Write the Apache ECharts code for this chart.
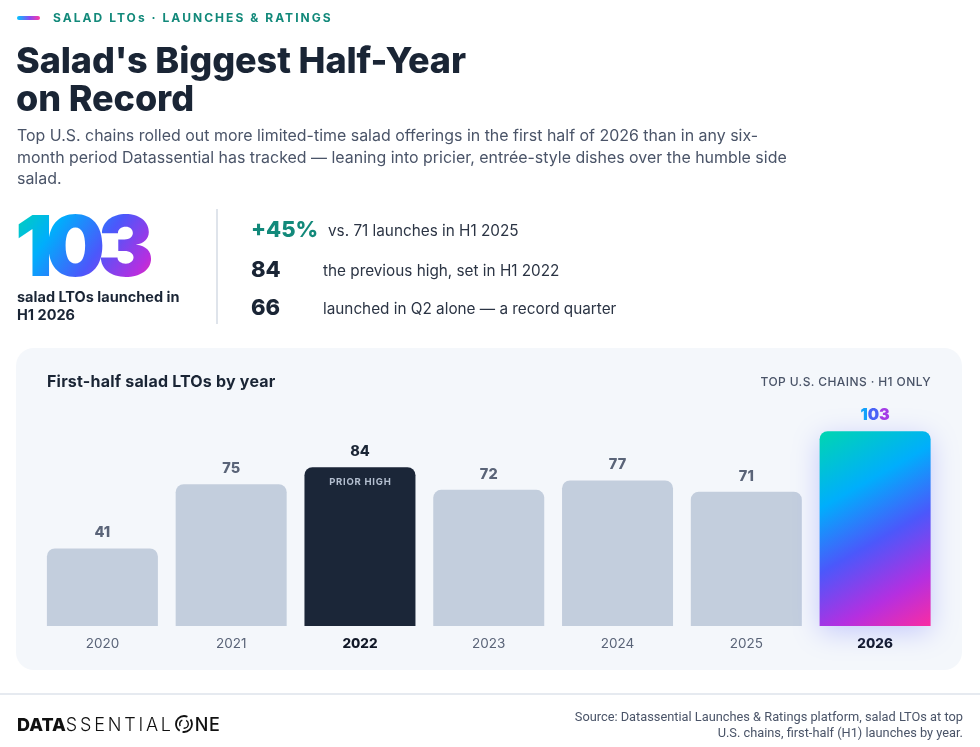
<!DOCTYPE html>
<html>
<head>
<meta charset="utf-8">
<script src="https://cdn.jsdelivr.net/npm/echarts@6/dist/echarts.min.js"></script>
<style>
  html, body { margin: 0; padding: 0; background: #ffffff; }
  #wrap { position: relative; width: 980px; height: 747px; font-family: Inter, "Noto Sans", sans-serif; }
  #chart { position: absolute; left: 0; top: 0; width: 980px; height: 747px; }
  .t { position: absolute; white-space: nowrap; pointer-events: none; }
  .kicker { left: 53px; top: 11px; font: 700 12px/14px Inter, sans-serif; letter-spacing: 2.05px; color: #12897a; }
  .pill { position: absolute; left: 17px; top: 16px; width: 23px; height: 4px; border-radius: 2px;
          background: linear-gradient(90deg, #00c6ff, #8a4af3 55%, #ff3aa2); }
  .title { left: 16px; font: 800 36px/36px Inter, sans-serif; letter-spacing: -0.1px; color: #1a2535; }
  .para { left: 17px; top: 125px; font: 400 15.95px/21.5px Inter, sans-serif; color: #4a5468; }
  .big { left: 15px; top: 204px; font: 900 84px/84px Inter, sans-serif; letter-spacing: -7.5px;
         background: linear-gradient(125deg, #00d6b0 0%, #00aefc 28%, #4b58fb 58%, #b52fe0 85%, #fa2ca2 100%);
         -webkit-background-clip: text; background-clip: text; color: transparent; padding-right: 10px; }
  .caption { left: 17px; top: 288px; font: 700 14.5px/18px Inter, sans-serif; color: #1a2535; }
  .vr { position: absolute; left: 216px; top: 209px; width: 1.5px; height: 115px; background: #dfe4eb; }
  .num { left: 251px; font: 800 22px/22px Inter, sans-serif; }
  .stat { font: 400 15.3px/16px Inter, sans-serif; color: #2b3444; }
  .ptitle { left: 47px; top: 372px; font: 700 16px/18px Inter, sans-serif; letter-spacing: 0.2px; color: #1a2535; }
  .pnote { right: 49px; top: 375px; font: 500 12px/14px Inter, sans-serif; letter-spacing: 0.4px; color: #4a5468; }
  .hr { position: absolute; left: 0; top: 693px; width: 980px; height: 1.5px; background: #e6eaf0; }
  .logo { left: 17px; top: 714px; font: 18px/20px Inter, sans-serif; color: #111111; }
  .logo b { font-weight: 800; }
  .logo span { font-weight: 300; letter-spacing: 2.8px; }
  .logo i { font-style: normal; font-weight: 500; letter-spacing: 0.5px; }
  .logo svg { vertical-align: -3px; margin: 0 1px 0 0; }
  .src { right: 17px; top: 709px; text-align: right; font: 400 12.8px/16px "Liberation Sans Narrow", Roboto, sans-serif; color: #4a5468; }
</style>
</head>
<body>
<div id="wrap">
  <div id="chart"></div>
  <div class="pill"></div>
  <div class="t kicker">SALAD LTOs · LAUNCHES &amp; RATINGS</div>
  <div class="t title" style="top:42px">Salad's Biggest Half-Year</div>
  <div class="t title" style="top:80px">on Record</div>
  <div class="t para">Top U.S. chains rolled out more limited-time salad offerings in the first half of 2026 than in any six-<br>month period Datassential has tracked — leaning into pricier, entrée-style dishes over the humble side<br>salad.</div>
  <div class="t big">103</div>
  <div class="t caption">salad LTOs launched in<br>H1 2026</div>
  <div class="vr"></div>
  <div id="stats"></div>
  <div class="t ptitle">First-half salad LTOs by year</div>
  <div class="t pnote">TOP U.S. CHAINS · H1 ONLY</div>
  <div class="hr"></div>
  <div class="t logo"><b>DATA</b><span>SSENTIAL</span><svg width="20" height="20" viewBox="0 0 20 20"><circle cx="10" cy="10" r="8" fill="none" stroke="#111" stroke-width="1.8" stroke-dasharray="14 3 24 4"/><circle cx="10" cy="10" r="4.3" fill="none" stroke="#111" stroke-width="1.4" stroke-dasharray="7 4"/></svg><i>NE</i></div>
  <div class="t src">Source: Datassential Launches &amp; Ratings platform, salad LTOs at top<br>U.S. chains, first-half (H1) launches by year.</div>
</div>
<script>
// data
var years = ['2020', '2021', '2022', '2023', '2024', '2025', '2026'];
var launches = [41, 75, 84, 72, 77, 71, 103];
var priorHighYear = '2022';
var recordYear = '2026';
var statNumbers = ['+45%', '84', '66'];
var statTexts = ['vs. 71 launches in H1 2025', 'the previous high, set in H1 2022', 'launched in Q2 alone \u2014 a record quarter'];

var INK = '#1a2535';
var SLATE = '#5a6478';

// stat rows
var statY = [229, 269, 307];
var statTextX = [328, 323, 323];
var statsHtml = '';
statNumbers.forEach(function (n, i) {
  statsHtml += '<div class="t num" style="top:' + (statY[i] - 11) + 'px;color:' + (i === 0 ? '#12897a' : INK) + '">' + n + '</div>' +
    '<div class="t stat" style="left:' + statTextX[i] + 'px;top:' + (statY[i] - 6) + 'px">' + statTexts[i] + '</div>';
});
document.getElementById('stats').innerHTML = statsHtml;

var recordFill = new echarts.graphic.LinearGradient(0, 0, 1, 1, [
  { offset: 0, color: '#00d6b0' },
  { offset: 0.3, color: '#00aefc' },
  { offset: 0.55, color: '#4b58fb' },
  { offset: 0.8, color: '#b52fe0' },
  { offset: 1, color: '#fa2ca2' }
]);

// bars, styled per year
var barData = years.map(function (y, i) {
  var item = { value: launches[i] };
  if (y === priorHighYear) {
    item.itemStyle = { color: '#1b2638' };
    item.label = { color: INK };
  } else if (y === recordYear) {
    item.itemStyle = {
      color: recordFill,
      shadowBlur: 28,
      shadowColor: 'rgba(85,95,255,0.30)',
      shadowOffsetY: 6
    };
    // digit-by-digit colours stand in for the gradient text
    item.label = {
      formatter: function (p) {
        var s = String(p.value), keys = ['g1', 'g2', 'g3'], out = '';
        for (var k = 0; k < s.length; k++) out += '{' + keys[Math.min(k, 2)] + '|' + s[k] + '}';
        return out;
      },
      rich: {
        g1: { color: '#12a2fb', fontSize: 16, fontWeight: 900 },
        g2: { color: '#4a63f6', fontSize: 16, fontWeight: 900 },
        g3: { color: '#a43ce6', fontSize: 16, fontWeight: 900 }
      }
    };
  }
  return item;
});

// invisible overlay that only carries the "PRIOR HIGH" tag
var tagData = years.map(function (y, i) {
  return y === priorHighYear ? launches[i] : null;
});

var myChart = echarts.init(document.getElementById('chart'));
var option = {
  animation: false,
  backgroundColor: '#ffffff',
  textStyle: { fontFamily: 'Inter, "Noto Sans", sans-serif' },
  graphic: {
    elements: [
      { type: 'rect', z: -1, shape: { x: 16, y: 348, width: 946, height: 322, r: 18 }, style: { fill: '#f4f7fb' } }
    ]
  },
  grid: { left: 38, right: 40.5, top: 418, bottom: 121 },
  xAxis: {
    type: 'category',
    data: years,
    axisLine: { show: false },
    axisTick: { show: false },
    axisLabel: {
      margin: 11,
      fontSize: 13.5,
      color: SLATE,
      formatter: function (v) {
        return (v === priorHighYear || v === recordYear) ? '{hi|' + v + '}' : v;
      },
      rich: { hi: { fontSize: 13.5, fontWeight: 800, color: '#111827' } }
    }
  },
  yAxis: {
    type: 'value',
    min: 0,
    max: 110,
    show: false
  },
  series: [
    {
      name: 'H1 salad LTOs',
      type: 'bar',
      data: barData,
      barWidth: 111,
      itemStyle: { color: '#c3cedd', borderRadius: [8, 8, 0, 0] },
      label: {
        show: true,
        position: 'top',
        distance: 8,
        fontSize: 14.5,
        fontWeight: 800,
        color: SLATE
      }
    },
    {
      name: 'tag',
      type: 'bar',
      data: tagData,
      barWidth: 111,
      barGap: '-100%',
      silent: true,
      itemStyle: { color: 'rgba(0,0,0,0)' },
      label: {
        show: true,
        position: 'insideTop',
        distance: 10,
        formatter: 'PRIOR HIGH'.split('').join('\u200a'),
        fontSize: 9.5,
        fontWeight: 700,
        color: '#b4bfd0'
      }
    }
  ]
};
myChart.setOption(option);
</script>
</body>
</html>
